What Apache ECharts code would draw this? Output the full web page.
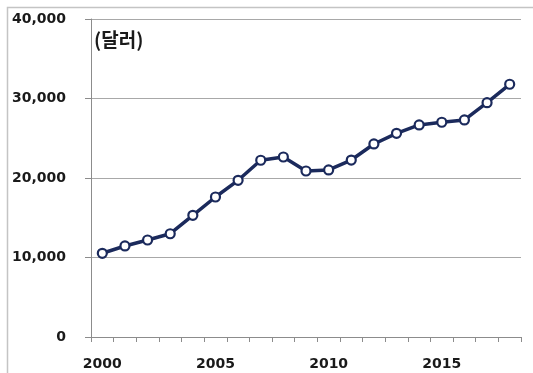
<!DOCTYPE html>
<html>
<head>
<meta charset="utf-8">
<script src="https://cdn.jsdelivr.net/npm/echarts@6/dist/echarts.min.js"></script>
<style>
  html, body { margin: 0; padding: 0; background: #ffffff; }
  #chart { width: 533px; height: 373px; }
</style>
</head>
<body>
<div id="chart"></div>
<script>
// Per-capita income in US dollars, 2000-2018
const years = ['2000','2001','2002','2003','2004','2005','2006','2007','2008','2009',
               '2010','2011','2012','2013','2014','2015','2016','2017','2018'];
const income = [10530, 11450, 12200, 12990, 15310, 17610, 19710, 22230, 22640, 20880,
                21010, 22260, 24280, 25620, 26670, 27010, 27300, 29470, 31790];
const unitLabel = '(달러)';
const yMin = 0, yMax = 40000, yStep = 10000;

const navy = '#1b2a5c';
const gridGray = '#a8a8a8';
const labelFont = '"DejaVu Sans", sans-serif';

const chart = echarts.init(document.getElementById('chart'), null, { renderer: 'canvas' });
chart.setOption({
  animation: false,
  backgroundColor: '#ffffff',
  grid: { left: 91, right: 12, top: 19, bottom: 36, containLabel: false },
  graphic: [
    {
      type: 'rect',
      shape: { x: 7.5, y: 7.5, width: 560, height: 400 },
      style: { fill: 'none', stroke: '#c4c4c4', lineWidth: 1.5 },
      silent: true,
      z: -1
    },
    {
      type: 'text',
      left: 94,
      top: 30,
      style: {
        text: unitLabel,
        font: 'bold 19px "Noto Sans CJK KR", sans-serif',
        fill: '#1a1a1a'
      }
    }
  ],
  xAxis: {
    type: 'category',
    data: years,
    boundaryGap: true,
    axisLine: { show: true, lineStyle: { color: '#8c8c8c', width: 1 } },
    axisTick: { show: true, interval: 0, length: 5, lineStyle: { color: '#8c8c8c' } },
    axisLabel: {
      interval: 4,
      margin: 20,
      color: '#1a1a1a',
      fontFamily: labelFont,
      fontWeight: 'bold',
      fontSize: 14
    },
    splitLine: { show: false }
  },
  yAxis: {
    type: 'value',
    min: yMin,
    max: yMax,
    interval: yStep,
    axisLine: { show: true, lineStyle: { color: '#8c8c8c', width: 1 } },
    axisTick: { show: true, length: 6, lineStyle: { color: '#8c8c8c' } },
    axisLabel: {
      margin: 25,
      color: '#1a1a1a',
      fontFamily: labelFont,
      fontWeight: 'bold',
      fontSize: 14,
      formatter: v => v.toLocaleString('en-US')
    },
    splitLine: { show: true, lineStyle: { color: gridGray, width: 1 } }
  },
  series: [
    {
      type: 'line',
      data: income,
      symbol: 'circle',
      symbolSize: 9,
      showAllSymbol: true,
      lineStyle: { color: navy, width: 3.5 },
      itemStyle: { color: '#ffffff', borderColor: navy, borderWidth: 2.2 },
      emphasis: { disabled: true }
    }
  ]
});
</script>
</body>
</html>
